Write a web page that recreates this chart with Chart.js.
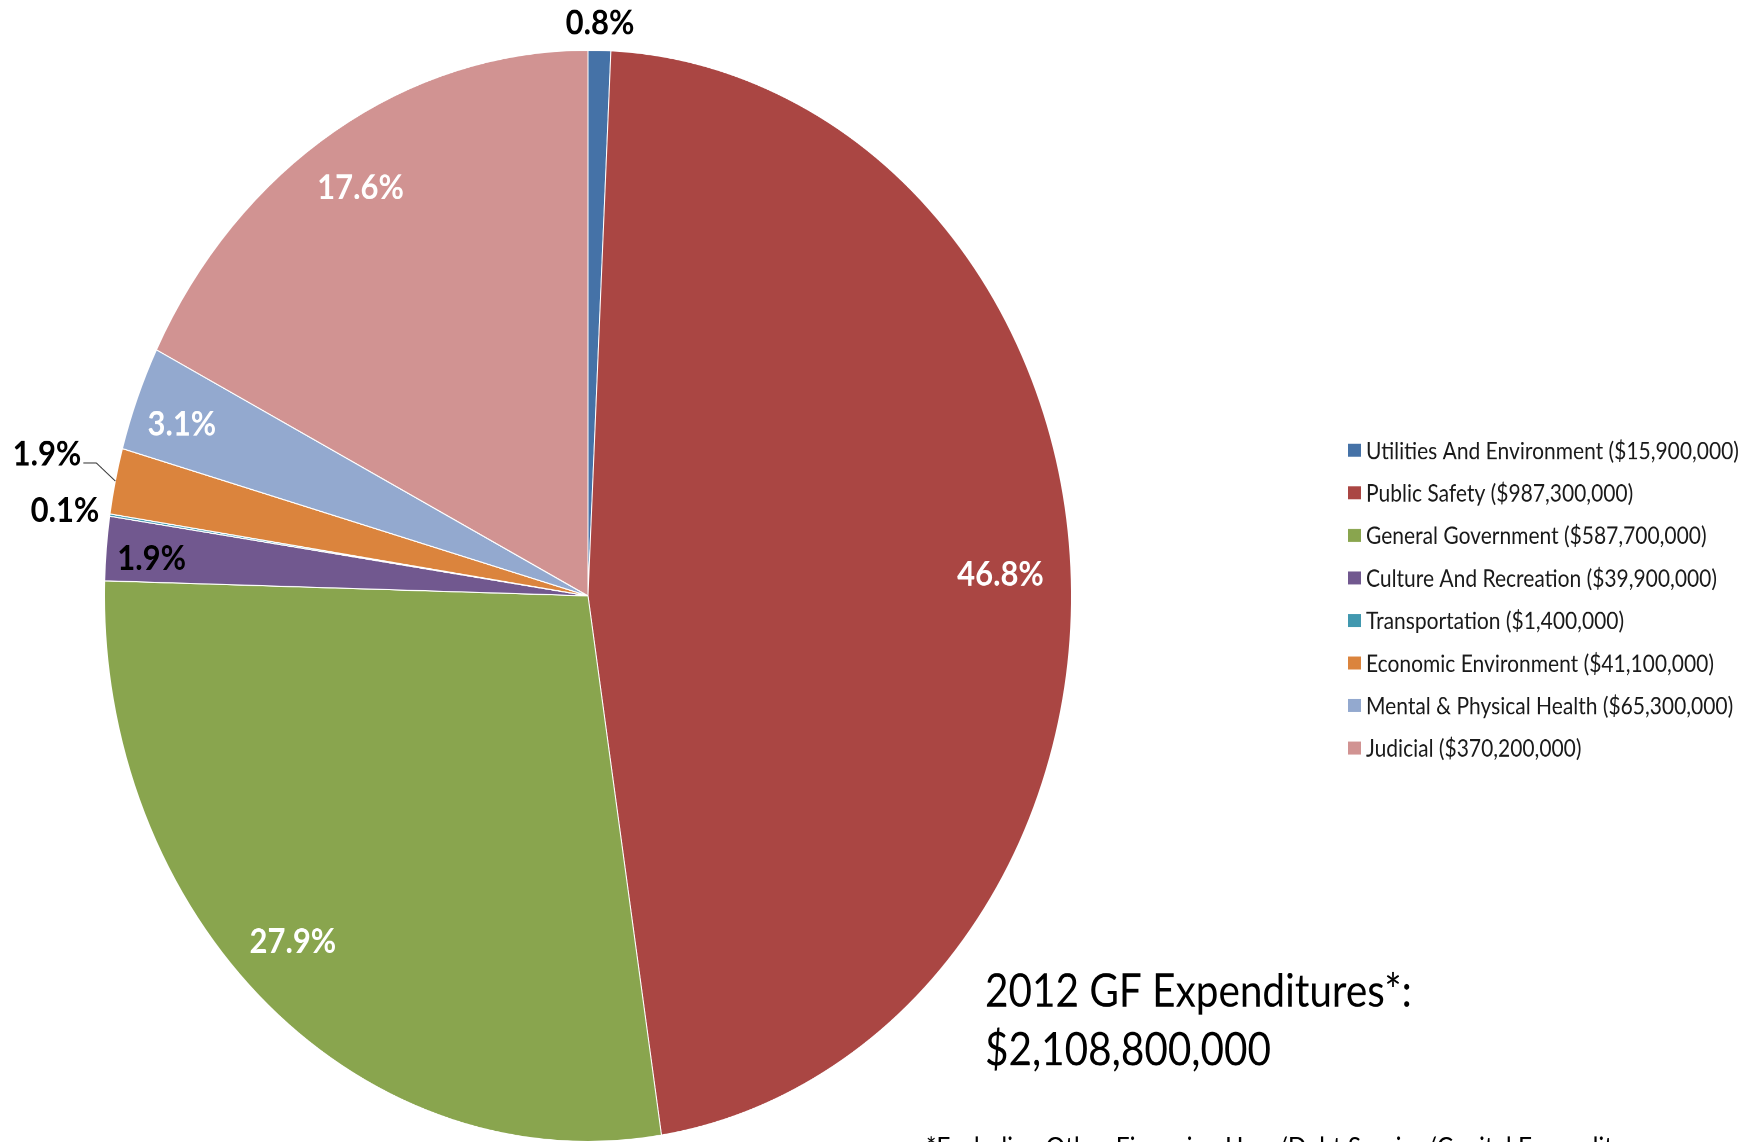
<!DOCTYPE html>
<html>
<head>
<meta charset="utf-8">
<title>2012 GF Expenditures</title>
<script src="https://cdn.jsdelivr.net/npm/chart.js@4.4.1/dist/chart.umd.min.js"></script>
<style>
  html, body { margin: 0; padding: 0; background: #fff; overflow: hidden; }
  /* the original picture is stretched vertically, so stretch the whole chart the same way */
  #wrap {
    position: absolute; left: 0; top: 0;
    width: 1744px; height: 1012px;
    transform: scaleY(1.1285);
    transform-origin: 0 0;
  }
</style>
</head>
<body>
<div id="wrap"><canvas id="gfChart"></canvas></div>
<script>
// chart data
const categories = [
    'Utilities And Environment',
    'Public Safety',
    'General Government',
    'Culture And Recreation',
    'Transportation',
    'Economic Environment',
    'Mental & Physical Health',
    'Judicial'
];
const amounts = [15900000, 987300000, 587700000, 39900000, 1400000, 41100000, 65300000, 370200000];
const sliceColors = ['#4572A7', '#AA4643', '#89A54E', '#71588F', '#4198AF', '#DB843D', '#93A9CF', '#D19392'];
const titleLine = '2012 GF Expenditures*:';
const footnote = '*Excluding Other Financing Uses/Debt Service/Capital Expenditures';

const total = amounts.reduce((a, b) => a + b, 0);
const money = v => '$' + v.toLocaleString('en-US');
const percentText = amounts.map(v => (v / total * 100).toFixed(1) + '%');

// where each percent label sits: fraction of radius, small angle nudge (deg), colour
const labelPlacement = [
    { f: 1.05, da: 0, color: '#000' },
    { f: 0.854, da: 0.4, color: '#fff' },
    { f: 0.88, da: 2.5, color: '#fff' },
    { f: 0.905, da: -0.7, color: '#000' },
    { f: 1.093, da: -0.3, color: '#000' },
    { f: 1.0, da: 0, color: '#000', leader: true },
    { f: 0.897, da: -0.7, color: '#fff' },
    { f: 0.883, da: -0.6, color: '#fff' }
];

// draws percent labels, legend, total and footnote
const extraText = {
    id: 'extraText',
    afterDatasetsDraw(chart) {
        const ctx = chart.ctx;
        const arcs = chart.getDatasetMeta(0).data;
        ctx.save();
        ctx.font = 'bold 31px Lato';
        arcs.forEach(function(arc, i) {
            const p = arc.getProps(['x', 'y', 'startAngle', 'endAngle', 'outerRadius'], true);
            const place = labelPlacement[i];
            const mid = (p.startAngle + p.endAngle) / 2 + place.da * Math.PI / 180;
            const r = p.outerRadius * place.f;
            const lx = p.x + Math.cos(mid) * r;
            const ly = p.y + Math.sin(mid) * r;
            ctx.fillStyle = place.color;
            if (place.leader) {
                // leader line from slice edge, up-left, then a short horizontal run
                const ex = lx - 19;
                const ey = ly - 16;
                ctx.strokeStyle = '#404040';
                ctx.lineWidth = 1;
                ctx.beginPath();
                ctx.moveTo(lx, ly);
                ctx.lineTo(ex, ey);
                ctx.lineTo(ex - 13, ey);
                ctx.stroke();
                ctx.textAlign = 'right';
                ctx.textBaseline = 'alphabetic';
                ctx.fillText(percentText[i], ex - 15, ey + 2);
            } else {
                ctx.textAlign = 'center';
                ctx.textBaseline = 'middle';
                ctx.fillText(percentText[i], lx, ly);
            }
        });

        // legend on the right
        ctx.font = '21px Lato';
        ctx.textAlign = 'left';
        ctx.textBaseline = 'middle';
        categories.forEach(function(name, i) {
            const y = 399 + i * 37.7;
            ctx.fillStyle = sliceColors[i];
            ctx.fillRect(1348, y - 5.75, 13, 11.5);
            ctx.fillStyle = '#1a1a1a';
            ctx.fillText(name + ' (' + money(amounts[i]) + ')', 1366, y + 1);
        });

        // total box text
        ctx.fillStyle = '#000';
        ctx.textBaseline = 'alphabetic';
        ctx.font = '40.5px Lato';
        ctx.fillText(titleLine, 985, 892);
        ctx.fillText(money(total), 985, 944);

        // footnote, mostly cut off by the bottom edge
        ctx.font = '24.5px Lato';
        ctx.fillText(footnote, 926, 1025);
        ctx.restore();
    }
};

const ctx = document.getElementById('gfChart').getContext('2d');
const gfChart = new Chart(ctx, {
    type: 'pie',
    data: {
        labels: categories,
        datasets: [{
            data: amounts,
            backgroundColor: sliceColors,
            borderColor: '#ffffff',
            borderWidth: 1
        }]
    },
    options: {
        responsive: true,
        maintainAspectRatio: false,
        devicePixelRatio: 2,
        animation: false,
        layout: {
            padding: { left: 103, top: 44, right: 671, bottom: 0 }
        },
        plugins: {
            legend: { display: false },
            tooltip: { enabled: false }
        }
    },
    plugins: [extraText]
});
</script>
</body>
</html>
